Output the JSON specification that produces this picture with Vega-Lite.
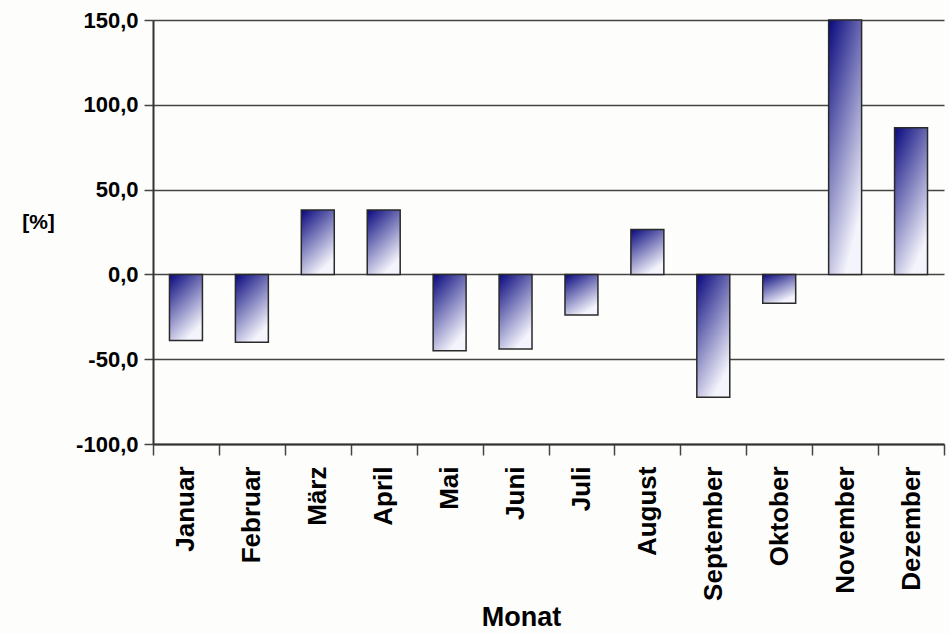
{
  "$schema": "https://vega.github.io/schema/vega-lite/v6.json",
  "width": 791,
  "height": 424,
  "autosize": "none",
  "padding": {"left": 153, "top": 20, "right": 5, "bottom": 190},
  "background": "#fdfdfb",
  "data": {
    "values": [
      {"Monat": "Januar", "Wert": -39},
      {"Monat": "Februar", "Wert": -40},
      {"Monat": "März", "Wert": 38},
      {"Monat": "April", "Wert": 38},
      {"Monat": "Mai", "Wert": -45},
      {"Monat": "Juni", "Wert": -44},
      {"Monat": "Juli", "Wert": -24},
      {"Monat": "August", "Wert": 26.5},
      {"Monat": "September", "Wert": -72.5},
      {"Monat": "Oktober", "Wert": -17},
      {"Monat": "November", "Wert": 150},
      {"Monat": "Dezember", "Wert": 86.5}
    ]
  },
  "mark": {
    "type": "bar",
    "width": {"band": 0.5},
    "stroke": "#2a2a2a",
    "strokeWidth": 1.5,
    "fill": {
      "gradient": "linear",
      "x1": 0, "y1": 0, "x2": 0.5, "y2": 1,
      "stops": [
        {"offset": 0, "color": "#08087e"},
        {"offset": 1, "color": "#f4f4fc"}
      ]
    }
  },
  "encoding": {
    "x": {
      "field": "Monat",
      "type": "nominal",
      "sort": null,
      "scale": {"paddingInner": 0, "paddingOuter": 0},
      "axis": {
        "title": "Monat",
        "titleFont": "Liberation Sans",
        "titleFontSize": 27,
        "titleFontWeight": "bold",
        "titleColor": "#000",
        "titleX": 368,
        "titleY": 181,
        "titleAlign": "center",
        "titleBaseline": "alphabetic",
        "labelAngle": -90,
        "labelAlign": "right",
        "labelBaseline": "middle",
        "labelFont": "Liberation Sans",
        "labelFontSize": 26,
        "labelFontWeight": "bold",
        "labelColor": "#000",
        "labelPadding": 11,
        "labelOverlap": false,
        "tickBand": "extent",
        "tickSize": 11,
        "tickColor": "#444",
        "tickWidth": 1.5,
        "domainColor": "#333",
        "domainWidth": 2
      }
    },
    "y": {
      "field": "Wert",
      "type": "quantitative",
      "scale": {"domain": [-100, 150], "nice": false, "zero": true},
      "axis": {
        "values": [-100, -50, 0, 50, 100, 150],
        "labelExpr": "replace(replace(format(datum.value, '.1f'), '.', ','), '−', '-')",
        "title": "[%]",
        "titleAngle": 0,
        "titleX": -115,
        "titleY": 202,
        "titleAlign": "center",
        "titleBaseline": "middle",
        "titleFont": "Liberation Sans",
        "titleFontSize": 21,
        "titleFontWeight": "bold",
        "titleColor": "#000",
        "labelFont": "Liberation Sans",
        "labelFontSize": 22,
        "labelFontWeight": "bold",
        "labelColor": "#000",
        "labelPadding": 6,
        "tickSize": 9,
        "tickColor": "#444",
        "tickWidth": 1.5,
        "domainColor": "#333",
        "domainWidth": 2,
        "grid": true,
        "gridColor": "#444",
        "gridWidth": 1.5
      }
    }
  },
  "config": {
    "view": {"stroke": null}
  }
}
